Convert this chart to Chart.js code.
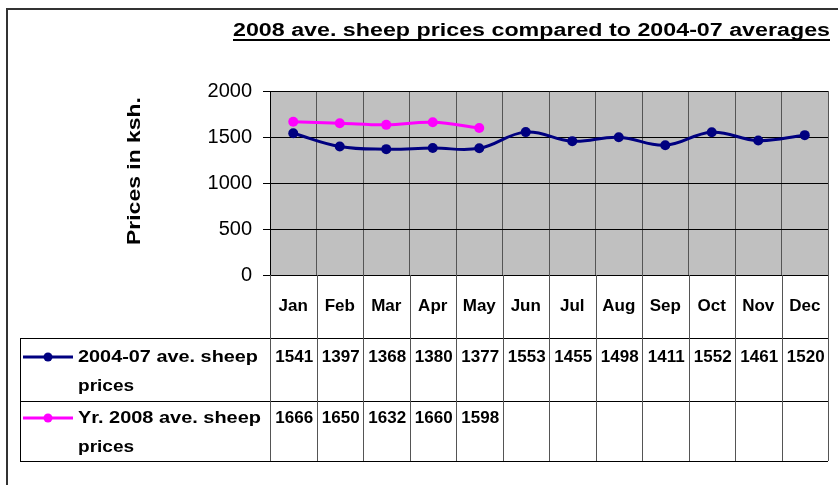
<!DOCTYPE html>
<html>
<head>
<meta charset="utf-8">
<script src="https://cdn.jsdelivr.net/npm/chart.js@4.4.1/dist/chart.umd.min.js"></script>
<style>
  html, body { margin: 0; padding: 0; background: #fff; }
</style>
</head>
<body>
<canvas id="sheepPrices" width="838" height="485"></canvas>
<script>
  const months = ['Jan', 'Feb', 'Mar', 'Apr', 'May', 'Jun', 'Jul', 'Aug', 'Sep', 'Oct', 'Nov', 'Dec']
  const avg2004to07 = [1541, 1397, 1368, 1380, 1377, 1553, 1455, 1498, 1411, 1552, 1461, 1520]
  const yr2008 = [1666, 1650, 1632, 1660, 1598, null, null, null, null, null, null, null]
  const seriesLabels = [['2004-07 ave. sheep', 'prices'], ['Yr. 2008 ave. sheep', 'prices']]
  const seriesColors = ['#000080', '#FF00FF']
  const yTicks = [0, 500, 1000, 1500, 2000]
  const chartTitle = '2008 ave. sheep prices compared to 2004-07 averages'
  const yAxisTitle = 'Prices in ksh.'

  const FONT = '"Liberation Sans", Arial, sans-serif'

  // the old Excel picture is stretched sideways, so text gets squeezed/stretched to a width
  function stretchText(ctx, text, x, y, width) {
    const nat = ctx.measureText(text).width
    ctx.save()
    ctx.translate(x, y)
    ctx.scale(width / nat, 1)
    ctx.fillText(text, 0, 0)
    ctx.restore()
  }

  const tablePlugin = {
    id: 'dataTable',
    afterDraw(chart) {
      const ctx = chart.ctx
      const area = chart.chartArea
      const x = chart.scales.x
      ctx.save()

      // outer frame
      ctx.strokeStyle = '#333'
      ctx.lineWidth = 2
      ctx.beginPath()
      ctx.moveTo(7, 485)
      ctx.lineTo(7, 9)
      ctx.lineTo(838, 9)
      ctx.stroke()

      // title, underlined
      ctx.fillStyle = '#000'
      ctx.font = 'bold 18px ' + FONT
      ctx.textBaseline = 'alphabetic'
      ctx.textAlign = 'left'
      const tStart = 233, tEnd = 830
      stretchText(ctx, chartTitle, tStart, 36, tEnd - tStart)
      ctx.fillRect(tStart, 39, tEnd - tStart, 2)

      // y axis title
      ctx.save()
      ctx.translate(140, 171)
      ctx.rotate(-Math.PI / 2)
      ctx.font = 'bold 19px ' + FONT
      stretchText(ctx, yAxisTitle, -74, 0, 148)
      ctx.restore()

      // table grid
      const rowTop = area.bottom
      const rowLines = [338, 401, 461]
      const bounds = [area.left]
      for (let i = 0; i < months.length - 1; i++) {
        bounds.push((x.getPixelForValue(i) + x.getPixelForValue(i + 1)) / 2)
      }
      bounds.push(area.right)

      ctx.strokeStyle = '#000'
      ctx.lineWidth = 1
      ctx.beginPath()
      rowLines.forEach(y => {
        ctx.moveTo(20, y + 0.5)
        ctx.lineTo(area.right, y + 0.5)
      })
      ctx.moveTo(20.5, rowLines[0])
      ctx.lineTo(20.5, rowLines[2])
      ctx.stroke()

      ctx.strokeStyle = '#555'
      ctx.beginPath()
      bounds.forEach(bx => {
        const px = Math.round(bx) + 0.5
        ctx.moveTo(px, rowTop)
        ctx.lineTo(px, rowLines[2])
      })
      ctx.stroke()

      // month labels and values
      ctx.fillStyle = '#000'
      ctx.font = 'bold 17px ' + FONT
      ctx.textAlign = 'center'
      ctx.textBaseline = 'middle'
      months.forEach((m, i) => {
        const cx = x.getPixelForValue(i)
        ctx.fillText(m, cx, 306)
        if (avg2004to07[i] != null) ctx.fillText(String(avg2004to07[i]), cx + 1, 357)
        if (yr2008[i] != null) ctx.fillText(String(yr2008[i]), cx + 1, 418)
      })

      // legend keys in the first column
      const rowY = [357, 418]
      seriesLabels.forEach((lines, k) => {
        const y = rowY[k]
        ctx.strokeStyle = seriesColors[k]
        ctx.fillStyle = seriesColors[k]
        ctx.lineWidth = 3
        ctx.beginPath()
        ctx.moveTo(23, y)
        ctx.lineTo(73, y)
        ctx.stroke()
        ctx.beginPath()
        ctx.arc(48, y, 4.5, 0, Math.PI * 2)
        ctx.fill()

        ctx.fillStyle = '#000'
        ctx.textAlign = 'left'
        ctx.font = 'bold 17px ' + FONT
        lines.forEach((ln, j) => {
          const nat = ctx.measureText(ln).width
          const w = j === 0 ? (k === 0 ? 180 : 183) : nat * 1.12
          stretchText(ctx, ln, 78, y + j * 29, w)
        })
      })

      ctx.restore()
    }
  }

  const plotBackground = {
    id: 'plotBackground',
    beforeDraw(chart) {
      const { ctx, chartArea: a } = chart
      ctx.save()
      ctx.fillStyle = '#C0C0C0'
      ctx.fillRect(a.left, a.top, a.right - a.left, a.bottom - a.top)
      ctx.restore()
    }
  }

  new Chart(document.getElementById('sheepPrices'), {
    type: 'line',
    data: {
      labels: months,
      datasets: [
        {
          label: seriesLabels[0].join(' '),
          data: avg2004to07,
          borderColor: seriesColors[0],
          backgroundColor: seriesColors[0],
          borderWidth: 3,
          pointRadius: 5,
          pointBorderWidth: 0,
          tension: 0.4
        },
        {
          label: seriesLabels[1].join(' '),
          data: yr2008,
          borderColor: seriesColors[1],
          backgroundColor: seriesColors[1],
          borderWidth: 3,
          pointRadius: 5,
          pointBorderWidth: 0,
          tension: 0.4,
          spanGaps: false
        }
      ]
    },
    options: {
      responsive: false,
      animation: false,
      layout: { padding: { top: 91, right: 10, left: 0, bottom: 0 } },
      plugins: {
        legend: { display: false },
        title: { display: false },
        tooltip: { enabled: false }
      },
      scales: {
        x: {
          offset: true,
          afterFit: s => { s.height = 210 },
          grid: { offset: true, color: '#555', drawTicks: false, lineWidth: 1 },
          border: { color: '#000', width: 1 },
          ticks: { display: false }
        },
        y: {
          min: 0,
          max: 2000,
          afterFit: s => { s.width = 270 },
          afterBuildTicks: s => { s.ticks = yTicks.map(v => ({ value: v })) },
          grid: { color: '#000', tickLength: 7, lineWidth: 1 },
          border: { color: '#000', width: 1 },
          ticks: {
            padding: 11,
            color: '#000',
            font: { family: FONT, size: 20 },
            callback: v => String(v)
          }
        }
      }
    },
    plugins: [plotBackground, tablePlugin]
  })
</script>
</body>
</html>
